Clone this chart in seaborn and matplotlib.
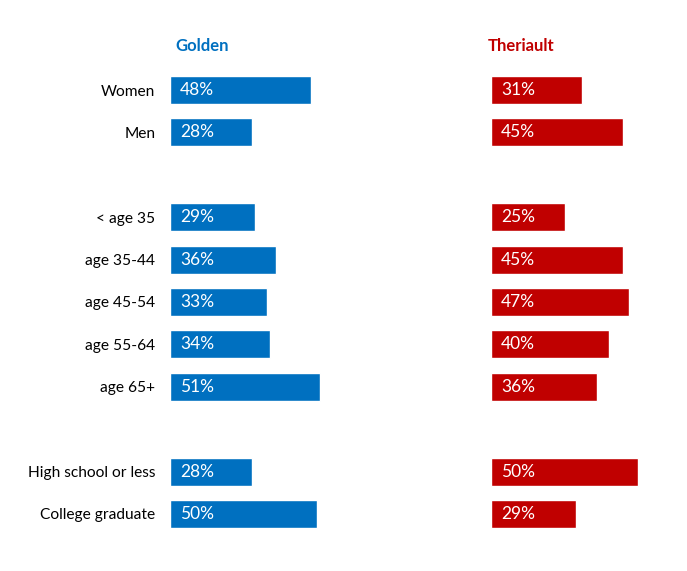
import pandas as pd
import seaborn as sns
import matplotlib.pyplot as plt

# ====
# data

groups = ["Women", "Men", " ", "< age 35", "age 35-44", "age 45-54", "age 55-64",
          "age 65+", "  ", "High school or less", "College graduate"]
shown = ["Women", "Men", "< age 35", "age 35-44", "age 45-54", "age 55-64",
         "age 65+", "High school or less", "College graduate"]
golden = [48, 28, 29, 36, 33, 34, 51, 28, 50]
theriault = [31, 45, 25, 45, 47, 40, 36, 50, 29]

blue = "#0070C0"
red = "#C00000"

df = pd.DataFrame({"group": shown, "Golden": golden, "Theriault": theriault})

# ====
# plot

sns.set_style("white")
plt.rcParams["font.family"] = ["Lato", "DejaVu Sans"]

fig = plt.figure(figsize=(6.87, 5.71), dpi=100)
W, H = 687, 571
top, bottom = 1 - 68.8 / H, 1 - 535.2 / H
px = 2.94  # pixels per percent

ax1 = fig.add_axes([170 / W, bottom, 290 / W, top - bottom])
ax2 = fig.add_axes([491 / W, bottom, 190 / W, top - bottom])

for ax, col, color, xmax in [(ax1, "Golden", blue, 290 / px), (ax2, "Theriault", red, 190 / px)]:
    sns.barplot(data=df, x=col, y="group", order=groups, color=color,
                width=0.66, orient="h", ax=ax, saturation=1)
    for p, v in zip(ax.patches, df[col]):
        ax.text(p.get_x() + 10 / px, p.get_y() + p.get_height() / 2, f"{v}%",
                color="white", fontsize=12.5, va="center", ha="left")
    ax.set_xlim(0, xmax)
    ax.set_ylim(len(groups) - 0.5, -0.5)
    ax.set_xlabel("")
    ax.set_ylabel("")
    ax.set_xticks([])
    sns.despine(ax=ax, left=True, bottom=True)

ax1.tick_params(axis="y", length=0, pad=10.5, labelsize=11.2, labelcolor="black")
ax2.set_yticks([])

fig.text(175 / W, 1 - 46 / H, "Golden", color=blue, fontsize=12, fontweight="bold", va="center")
fig.text(488 / W, 1 - 46 / H, "Theriault", color=red, fontsize=12, fontweight="bold", va="center")

plt.savefig("out.png", dpi=100)
